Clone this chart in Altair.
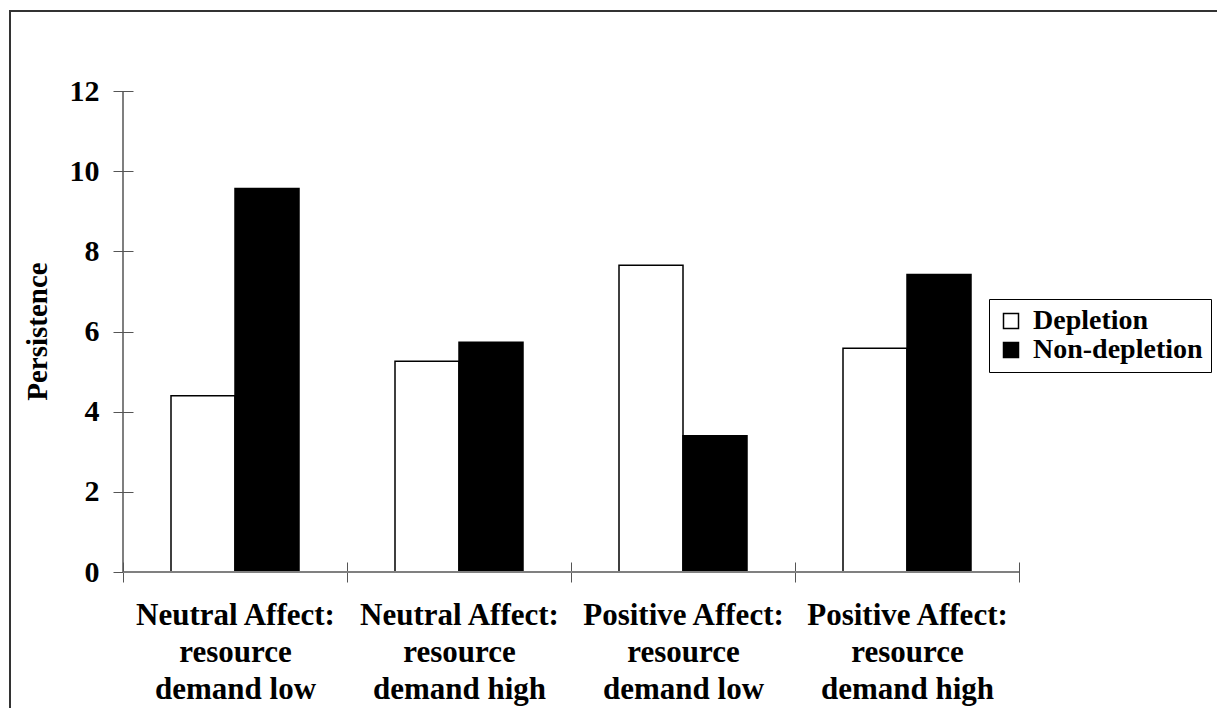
import altair as alt
import pandas as pd

categories = [
    "Neutral Affect:\nresource\ndemand low",
    "Neutral Affect:\nresource\ndemand high",
    "Positive Affect:\nresource\ndemand low",
    "Positive Affect:\nresource\ndemand high",
]
series = ["Depletion", "Non-depletion"]
depletion = [4.40, 5.26, 7.65, 5.58]
non_depletion = [9.57, 5.73, 3.40, 7.42]
y_ticks = [0, 2, 4, 6, 8, 10, 12]

rows = []
for c, d, n in zip(categories, depletion, non_depletion):
    rows.append({"cat": c, "series": series[0], "value": d})
    rows.append({"cat": c, "series": series[1], "value": n})
df = pd.DataFrame(rows)

W, H = 896, 481
FONT = "Liberation Serif"
TICKC = "#555555"

bars = alt.Chart(df).mark_bar(stroke="black", strokeWidth=1.5).encode(
    x=alt.X(
        "cat:N",
        sort=categories,
        scale=alt.Scale(paddingInner=0, paddingOuter=0),
        axis=alt.Axis(
            title=None, labelAngle=0, tickBand="extent", domain=False,
            offset=-10, tickSize=20, tickColor=TICKC, tickWidth=1,
            labelExpr="split(datum.label, '\\n')",
            labelFont=FONT, labelFontSize=31, labelFontWeight="bold",
            labelColor="black", labelPadding=18, labelLineHeight=37,
            labelBaseline="top", labelLimit=0,
        ),
    ),
    xOffset=alt.XOffset("series:N", sort=series,
                        scale=alt.Scale(paddingInner=0, paddingOuter=0.75)),
    y=alt.Y(
        "value:Q",
        scale=alt.Scale(domain=[0, 12], nice=False),
        axis=alt.Axis(
            values=y_ticks, title="Persistence", domain=False, grid=False,
            offset=-10, tickSize=20, tickColor=TICKC, tickWidth=1,
            labelFont=FONT, labelFontSize=30, labelFontWeight="bold",
            labelColor="black", labelPadding=14,
            titleFont=FONT, titleFontSize=29, titleFontWeight="bold",
            titleColor="black", titleX=-96, titleY=240,
            titleAlign="center", titleBaseline="middle",
        ),
    ),
    color=alt.Color(
        "series:N", sort=series,
        scale=alt.Scale(domain=series, range=["white", "black"]),
        legend=alt.Legend(
            title=None, orient="none", legendX=866, legendY=208,
            strokeColor="black", fillColor="white", padding=8,
            labelFont=FONT, labelFontSize=28, labelFontWeight="bold",
            labelColor="black", labelLimit=0, symbolType="square",
            symbolSize=225, symbolStrokeColor="black", symbolStrokeWidth=1.5,
            rowPadding=1, labelOffset=8,
        ),
    ),
)

xline = alt.Chart(pd.DataFrame({"z": [0]})).mark_rule(color="#808080", strokeWidth=2).encode(
    y=alt.datum(0)
)
yline = alt.Chart(pd.DataFrame({"z": [0]})).mark_rule(color=TICKC, strokeWidth=1.5).encode(
    x=alt.value(0)
)
border = alt.Chart(pd.DataFrame({"z": [0]})).mark_rect(
    fill="transparent", stroke="#333333", strokeWidth=2
).encode(
    x=alt.value(-113), x2=alt.value(1200), y=alt.value(-80), y2=alt.value(700)
)

chart = alt.layer(border, bars, xline, yline).properties(
    width=W, height=H,
    autosize=alt.AutoSizeParams(type="none"),
    padding={"left": 115, "top": 83, "right": 198, "bottom": 136},
    background="white",
).configure_view(strokeWidth=0, stroke="transparent")

chart.save("out.html", embed_options={"renderer": "svg", "actions": False})
